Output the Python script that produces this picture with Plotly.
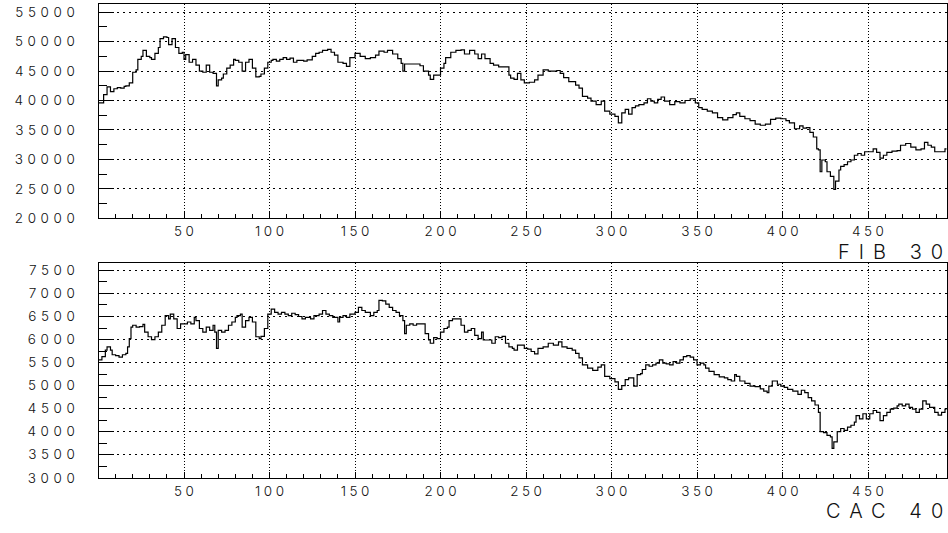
import plotly.graph_objects as go

# FIB 30 daily index (day number, closing level)
fib_day = [0, 3, 5, 7, 9, 11, 13, 15, 16, 18, 20, 22, 23, 25, 26, 28, 30, 31, 33, 35,
           36, 38, 40, 41, 43, 45, 47, 49, 50, 51, 53, 55, 57, 59, 61, 63, 65, 67, 69, 70,
           72, 73, 75, 77, 79, 80, 82, 84, 86, 88, 90, 92, 94, 95, 97, 99, 101, 102, 104, 106,
           108, 110, 112, 114, 116, 118, 120, 122, 125, 127, 129, 131, 134, 136, 138, 140, 143, 145, 147, 150,
           153, 156, 159, 162, 164, 167, 169, 172, 175, 177, 178, 179, 182, 186, 188, 190, 193, 194, 196, 198,
           200, 202, 203, 206, 209, 212, 214, 217, 220, 222, 224, 226, 229, 231, 234, 237, 240, 241, 243, 245,
           247, 249, 252, 255, 257, 260, 263, 265, 268, 270, 272, 275, 278, 279, 281, 283, 286, 288, 291, 294,
           296, 299, 302, 304, 306, 308, 310, 312, 314, 316, 319, 321, 323, 325, 327, 329, 331, 334, 337, 340,
           343, 346, 349, 351, 353, 356, 359, 362, 365, 368, 371, 373, 375, 378, 381, 384, 387, 390, 393, 396,
           399, 402, 404, 407, 410, 412, 414, 416, 418, 420, 421, 422, 423, 425, 426, 428, 430, 431, 433, 434,
           436, 438, 440, 442, 444, 446, 448, 450, 453, 455, 457, 459, 461, 464, 467, 469, 472, 475, 478, 481,
           483, 485, 487, 489, 492, 495]
fib_value = [39600, 41000, 42300, 41500, 42000, 42200, 42100, 42400, 42500, 43000, 44800, 45200, 47000, 47500, 48500, 47500, 47300, 47000, 48000, 49000,
             50500, 50800, 50700, 49500, 50500, 49000, 48000, 48200, 47000, 47800, 46500, 47000, 46000, 45000, 44800, 46000, 44800, 44600, 42500, 43500,
             43800, 44500, 45500, 46000, 47000, 46800, 46500, 45000, 46500, 47000, 45500, 44000, 44100, 44500, 45500, 46500, 46800, 47000, 46700, 47000,
             47300, 47000, 47200, 46500, 46800, 46800, 46700, 46900, 47500, 48000, 48200, 48500, 48700, 48200, 47700, 46500, 46300, 45800, 47300, 48000,
             47500, 47100, 47300, 47700, 48400, 48200, 48500, 47900, 47100, 46300, 45000, 46200, 46200, 46200, 45900, 45000, 44300, 43600, 44300, 44300,
             45500, 46300, 47300, 48200, 48500, 48600, 47900, 48500, 47900, 47100, 47900, 47100, 46300, 46000, 45700, 45700, 44300, 43800, 43600, 44600,
             43500, 43000, 43100, 43500, 44300, 45200, 45000, 45000, 45100, 44600, 43900, 43200, 43200, 42600, 42100, 40700, 40400, 39900, 39300, 39900,
             38200, 37700, 37300, 36200, 37900, 38500, 37700, 38800, 39100, 39300, 39600, 40300, 39900, 39600, 40200, 40600, 39900, 39300, 39800, 39600,
             40000, 40300, 39600, 38800, 38500, 38200, 37900, 37100, 36700, 37100, 37600, 37900, 37300, 36900, 36600, 36000, 35800, 36000, 36800, 37000,
             36900, 36600, 36200, 35200, 35700, 35300, 35400, 34600, 33800, 31800, 31600, 27900, 29900, 29600, 27900, 27100, 24900, 26300, 28200, 28800,
             29100, 29600, 29900, 30700, 31000, 30700, 31300, 31300, 31800, 31200, 30200, 30700, 31200, 31400, 31500, 32400, 32700, 32100, 31600, 31800,
             32900, 32400, 32100, 31300, 31300, 31800]

# CAC 40 daily index (day number, closing level)
cac_day = [0, 2, 4, 5, 7, 8, 10, 12, 14, 16, 17, 18, 19, 20, 22, 24, 26, 27, 29, 31,
           33, 35, 37, 39, 41, 42, 44, 46, 48, 50, 52, 54, 56, 57, 59, 61, 63, 65, 67, 68,
           69, 70, 72, 74, 76, 78, 80, 81, 83, 84, 86, 88, 90, 92, 94, 95, 97, 99, 101, 103,
           105, 107, 109, 111, 113, 115, 117, 119, 121, 124, 126, 129, 131, 133, 135, 137, 139, 140, 141, 143,
           145, 147, 150, 152, 154, 156, 159, 161, 163, 164, 166, 168, 170, 172, 174, 176, 178, 179, 180, 182,
           184, 186, 189, 191, 193, 194, 196, 198, 200, 202, 204, 205, 207, 210, 212, 214, 216, 218, 220, 222,
           224, 225, 227, 230, 232, 234, 236, 238, 240, 242, 243, 245, 247, 249, 251, 253, 255, 257, 260, 263,
           266, 269, 271, 274, 277, 279, 281, 283, 286, 289, 292, 294, 296, 299, 302, 304, 306, 308, 310, 313,
           315, 317, 318, 320, 322, 324, 326, 328, 330, 332, 334, 336, 338, 340, 342, 344, 346, 348, 350, 352,
           354, 355, 357, 360, 363, 366, 368, 370, 372, 373, 375, 378, 381, 384, 387, 389, 391, 392, 394, 397,
           399, 401, 403, 406, 409, 411, 413, 415, 417, 419, 421, 422, 424, 426, 428, 429, 430, 432, 434, 436,
           438, 440, 442, 443, 445, 447, 449, 451, 453, 455, 457, 459, 461, 463, 465, 467, 468, 470, 472, 474,
           476, 478, 480, 482, 484, 486, 489, 491, 493, 495]
cac_value = [5560, 5630, 5770, 5840, 5770, 5670, 5650, 5620, 5670, 5700, 5840, 6020, 6270, 6310, 6270, 6280, 6330, 6160, 6060, 6000,
             6060, 6160, 6310, 6520, 6450, 6550, 6450, 6240, 6340, 6340, 6380, 6340, 6480, 6410, 6240, 6160, 6270, 6200, 6310, 6160,
             5810, 6200, 6160, 6200, 6310, 6380, 6480, 6520, 6550, 6270, 6410, 6480, 6380, 6060, 6020, 6070, 6240, 6550, 6660, 6590,
             6550, 6590, 6550, 6520, 6570, 6540, 6500, 6450, 6480, 6450, 6520, 6550, 6630, 6550, 6520, 6480, 6480, 6380, 6480, 6520,
             6480, 6550, 6590, 6700, 6630, 6590, 6520, 6590, 6630, 6850, 6840, 6770, 6700, 6630, 6590, 6520, 6410, 6130, 6310, 6340,
             6310, 6340, 6340, 6130, 5990, 5920, 6040, 6020, 6160, 6240, 6270, 6410, 6450, 6450, 6310, 6160, 6200, 6240, 6090, 6020,
             6160, 5990, 5990, 5920, 6060, 6040, 6070, 5920, 5840, 5810, 5770, 5880, 5880, 5810, 5790, 5740, 5690, 5810, 5840, 5920,
             5880, 5950, 5840, 5810, 5770, 5700, 5600, 5450, 5380, 5330, 5400, 5450, 5200, 5150, 5080, 4920, 5000, 5130, 5170, 4990,
             5240, 5260, 5350, 5450, 5420, 5450, 5490, 5560, 5490, 5470, 5450, 5520, 5490, 5560, 5630, 5650, 5620, 5560, 5450, 5490,
             5450, 5380, 5310, 5240, 5190, 5170, 5130, 5100, 5240, 5200, 5100, 5050, 4990, 4980, 4930, 4880, 4850, 4990, 5100, 5030,
             4990, 4960, 4920, 4880, 4810, 4900, 4850, 4740, 4670, 4580, 4420, 4000, 3980, 3920, 3890, 3640, 3780, 4000, 4070, 4030,
             4100, 4140, 4210, 4350, 4280, 4390, 4280, 4390, 4460, 4420, 4240, 4350, 4420, 4490, 4510, 4560, 4600, 4560, 4600, 4530,
             4490, 4420, 4490, 4670, 4600, 4530, 4420, 4360, 4420, 4490]

x_ticks = [50, 100, 150, 200, 250, 300, 350, 400, 450]
fib_ticks = [20000, 25000, 30000, 35000, 40000, 45000, 50000, 55000]
cac_ticks = [3000, 3500, 4000, 4500, 5000, 5500, 6000, 6500, 7000, 7500]
x_end = 496

FONT = "Inter"
TICK_FONT = dict(family=FONT, size=13.5, color="#111111", weight=300)
TITLE_FONT = dict(family=FONT, size=20, color="#111111", weight=300)


def spaced(text, gap):
    # widen the tracking between characters, without trailing space after the last one
    text = str(text)
    return f"<span style='letter-spacing:{gap}px'>{text[:-1]}</span>{text[-1]}"


def step_trace(days, values, xa, ya):
    xs = list(days) + [x_end]
    ys = list(values) + [values[-1]]
    return go.Scatter(x=xs, y=ys, mode="lines", line=dict(color="black", width=1.2, shape="hv"),
                      xaxis=xa, yaxis=ya, showlegend=False, hoverinfo="skip")


fig = go.Figure()
fig.add_trace(step_trace(fib_day, fib_value, "x", "y"))
fig.add_trace(step_trace(cac_day, cac_value, "x2", "y2"))

x_dom = [98.5 / 948, 946.7 / 948]


def x_axis(anchor):
    return dict(domain=x_dom, anchor=anchor, range=[0, x_end],
                tickvals=x_ticks, ticktext=[spaced(t, 3.5) for t in x_ticks],
                ticks="inside", ticklen=6, tickcolor="black", tickwidth=1,
                tickfont=TICK_FONT, ticklabelstandoff=1,
                minor=dict(dtick=10, tick0=0, ticks="inside", ticklen=4, tickcolor="black", showgrid=False),
                showline=True, mirror=True, linecolor="black", linewidth=1,
                showgrid=True, gridcolor="black", gridwidth=1, griddash="1px,2px",
                zeroline=False, fixedrange=True)


def y_axis(anchor, dom, rng, ticks, minor):
    return dict(domain=dom, anchor=anchor, range=rng,
                tickvals=ticks, ticktext=[spaced(t, 4.6) for t in ticks],
                ticks="inside", ticklen=15, tickcolor="black", tickwidth=1,
                tickfont=TICK_FONT, ticklabelstandoff=20,
                minor=dict(dtick=minor, tick0=rng[0], ticks="inside", ticklen=8, tickcolor="black", showgrid=False),
                showline=True, mirror=True, linecolor="black", linewidth=1,
                showgrid=True, gridcolor="black", gridwidth=1, griddash="2px,4px",
                zeroline=False, fixedrange=True)


fig.update_layout(
    width=948, height=533,
    margin=dict(l=0, r=0, t=0, b=0),
    paper_bgcolor="white", plot_bgcolor="white",
    xaxis=x_axis("y"),
    yaxis=y_axis("x", [1 - 221 / 533, 1 - 3 / 533], [20000, 56400], fib_ticks, 2500),
    xaxis2=x_axis("y2"),
    yaxis2=y_axis("x2", [1 - 485 / 533, 1 - 267 / 533], [3000, 7650], cac_ticks, 250),
    annotations=[
        dict(text=spaced("FIB 30", 9), xref="paper", yref="paper", x=945 / 948, y=1 - 255 / 533,
             xanchor="right", yanchor="middle", showarrow=False, font=TITLE_FONT),
        dict(text=spaced("CAC 40", 9), xref="paper", yref="paper", x=945 / 948, y=1 - 519 / 533,
             xanchor="right", yanchor="middle", showarrow=False, font=TITLE_FONT),
    ],
)

fig.write_html("out.html")
